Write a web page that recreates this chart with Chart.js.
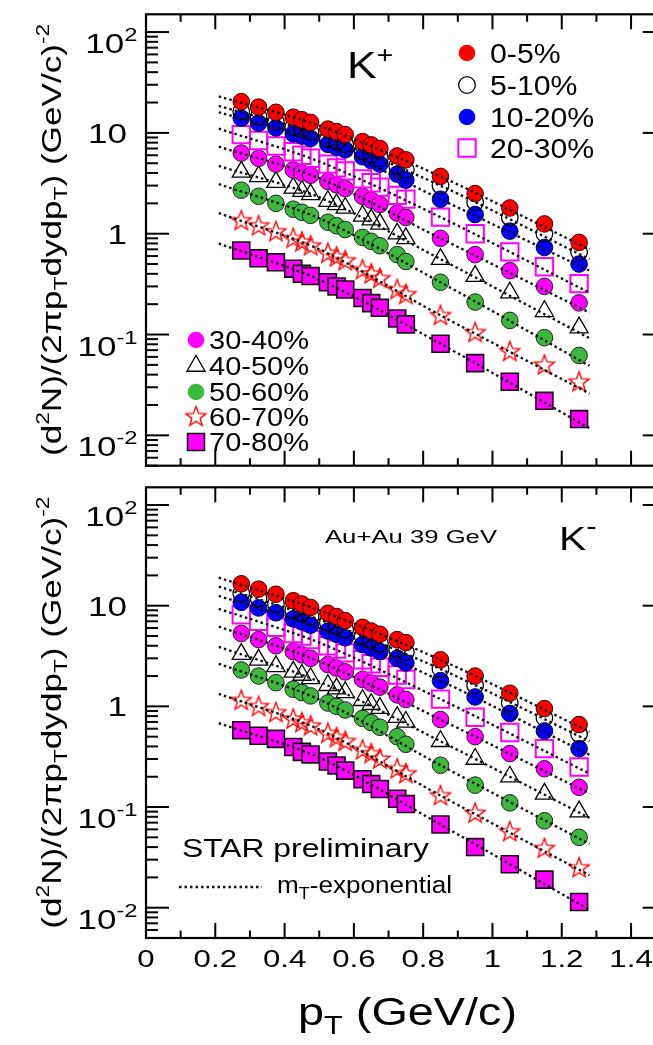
<!DOCTYPE html>
<html><head><meta charset="utf-8">
<script src="https://cdn.jsdelivr.net/npm/chart.js@4.4.1/dist/chart.umd.min.js"></script>
<style>
html,body{margin:0;padding:0;background:#fff;width:653px;height:1045px;overflow:hidden;position:relative;font-family:"Liberation Sans",Arial,sans-serif;}
#w1{position:absolute;left:0;top:0;width:680px;height:480px;}
#w2{position:absolute;left:0;top:473px;width:680px;height:572px;}
</style></head><body>
<div id="w1"><canvas id="c1" width="680" height="480"></canvas></div>
<div id="w2"><canvas id="c2" width="680" height="572"></canvas></div>
<script>
// ---------------- data ----------------
const pT = [0.275,0.325,0.375,0.425,0.45,0.475,0.525,0.55,0.575,0.625,0.65,0.675,0.725,0.75,0.85,0.95,1.05,1.15,1.25];
const centralities = ['0-5%','5-10%','10-20%','20-30%','30-40%','40-50%','50-60%','60-70%','70-80%'];

// K+ spectra
const kp_0_5   = [20.4,18.0,16.0,14.3,13.5,12.7,10.9,10.3,9.6,8.2,7.6,7.0,5.9,5.4,3.7,2.5,1.8,1.25,0.82];
const kp_5_10  = [16.3,14.4,12.8,11.4,10.8,10.2,8.7,8.2,7.7,6.6,6.1,5.6,4.7,4.3,3.0,2.05,1.45,1.0,0.66];
const kp_10_20 = [14.0,12.5,11.2,9.8,9.3,8.8,7.7,7.2,6.8,5.8,5.3,4.9,3.9,3.4,2.2,1.55,1.06,0.73,0.50];
const kp_20_30 = [9.6,8.4,7.4,6.5,6.0,5.6,4.9,4.5,4.2,3.5,3.2,2.9,2.4,2.2,1.46,1.0,0.66,0.47,0.32];
const kp_30_40 = [6.3,5.6,4.9,4.3,4.0,3.8,3.3,3.05,2.8,2.35,2.15,1.95,1.6,1.45,0.90,0.62,0.43,0.30,0.206];
const kp_40_50 = [4.1,3.7,3.25,2.85,2.65,2.45,2.1,1.95,1.8,1.5,1.38,1.25,1.0,0.9,0.56,0.38,0.26,0.17,0.117];
const kp_50_60 = [2.7,2.35,2.0,1.75,1.63,1.52,1.3,1.2,1.1,0.92,0.84,0.76,0.62,0.53,0.33,0.21,0.138,0.093,0.062];
const kp_60_70 = [1.35,1.2,1.05,0.9,0.83,0.76,0.64,0.59,0.54,0.44,0.40,0.36,0.28,0.25,0.155,0.105,0.068,0.050,0.034];
const kp_70_80 = [0.68,0.57,0.52,0.45,0.40,0.38,0.33,0.30,0.28,0.23,0.205,0.184,0.144,0.126,0.081,0.052,0.034,0.022,0.0145];

// K- spectra
const km_0_5   = [16.5,14.6,13.0,11.2,10.4,9.6,8.4,7.8,7.1,6.1,5.6,5.2,4.6,4.3,2.9,2.0,1.35,0.95,0.66];
const km_5_10  = [13.3,11.8,10.4,9.0,8.4,7.8,6.8,6.3,5.8,5.0,4.6,4.2,3.7,3.45,2.35,1.62,1.08,0.77,0.53];
const km_10_20 = [10.8,9.5,8.5,7.4,6.9,6.4,5.6,5.2,4.8,4.1,3.8,3.5,3.0,2.7,1.8,1.24,0.85,0.57,0.38];
const km_20_30 = [8.1,7.0,6.1,5.3,5.0,4.6,4.0,3.7,3.4,2.9,2.65,2.45,2.05,1.85,1.18,0.78,0.55,0.38,0.25];
const km_30_40 = [5.3,4.6,4.0,3.5,3.25,3.0,2.6,2.4,2.2,1.85,1.7,1.55,1.3,1.17,0.74,0.50,0.34,0.24,0.157];
const km_40_50 = [3.3,2.9,2.5,2.2,2.05,1.9,1.62,1.5,1.38,1.15,1.05,0.96,0.78,0.70,0.45,0.30,0.20,0.135,0.09];
const km_50_60 = [2.3,2.0,1.72,1.48,1.37,1.27,1.08,1.0,0.92,0.76,0.69,0.62,0.50,0.42,0.26,0.165,0.11,0.073,0.050];
const km_60_70 = [1.15,1.0,0.87,0.75,0.69,0.64,0.54,0.49,0.45,0.37,0.34,0.30,0.24,0.215,0.13,0.087,0.057,0.039,0.025];
const km_70_80 = [0.58,0.51,0.475,0.395,0.353,0.333,0.283,0.259,0.23,0.189,0.169,0.151,0.121,0.107,0.067,0.040,0.027,0.019,0.0114];

// m_T-exponential fit curves
const fitPt = [0.21, 0.5, 0.85, 1.28];
const kpFit_0_5   = [23, 11.8, 3.7, 0.70];
const kpFit_5_10  = [18.5, 9.5, 3.0, 0.56];
const kpFit_10_20 = [16, 8.3, 2.2, 0.43];
const kpFit_20_30 = [11, 5.2, 1.46, 0.26];
const kpFit_30_40 = [7.3, 3.55, 0.90, 0.165];
const kpFit_40_50 = [4.7, 2.3, 0.56, 0.092];
const kpFit_50_60 = [3.1, 1.42, 0.33, 0.049];
const kpFit_60_70 = [1.6, 0.70, 0.155, 0.026];
const kpFit_70_80 = [0.80, 0.35, 0.081, 0.0118];
const kmFit_0_5   = [19, 9.0, 2.9, 0.56];
const kmFit_5_10  = [15.5, 7.3, 2.35, 0.45];
const kmFit_10_20 = [12.5, 6.0, 1.8, 0.33];
const kmFit_20_30 = [9.3, 4.3, 1.18, 0.215];
const kmFit_30_40 = [6.2, 2.8, 0.74, 0.136];
const kmFit_40_50 = [3.9, 1.76, 0.45, 0.078];
const kmFit_50_60 = [2.65, 1.17, 0.26, 0.043];
const kmFit_60_70 = [1.33, 0.59, 0.13, 0.021];
const kmFit_70_80 = [0.68, 0.31, 0.067, 0.0095];

// axis ticks
const xTickValues = [0,0.2,0.4,0.6,0.8,1.0,1.2,1.4];
const xTickLabels = ['0','0.2','0.4','0.6','0.8','1','1.2','1.4'];
const yTickValues = [0.01,0.1,1,10,100];
const yTickBase   = ['10','10','1','10','10'];
const yTickExp    = ['-2','-1','','','2'];

// ---------------- styles ----------------
const FONT = '"Liberation Sans"';
const GREEN = '#3cb83c';
function starImage(color){
  const c = document.createElement('canvas'); c.width = 26; c.height = 26;
  const g = c.getContext('2d'); g.strokeStyle = color; g.lineWidth = 1.4; g.beginPath();
  for (let i=0;i<10;i++){ const r = i%2===0 ? 10.5 : 4.4; const a = -Math.PI/2 + i*Math.PI/5;
    const px = 13 + r*Math.cos(a), py = 13.5 + r*Math.sin(a); i===0 ? g.moveTo(px,py) : g.lineTo(px,py); }
  g.closePath(); g.stroke(); return c;
}
const STAR = starImage('#ff0000');
const markerStyles = [
  {pointStyle:'circle', radius:8.3, bg:'#ff0000', bc:'#3a0000', bw:1},
  {pointStyle:'circle', radius:8.3, bg:'rgba(0,0,0,0)', bc:'#000', bw:1.3},
  {pointStyle:'circle', radius:8.3, bg:'#0000ff', bc:'#00003a', bw:1},
  {pointStyle:'rect', radius:12.3, bg:'rgba(0,0,0,0)', bc:'#ff00ff', bw:2},
  {pointStyle:'circle', radius:8.3, bg:'#ff00ff', bc:'#222', bw:1},
  {pointStyle:'triangle', radius:10.5, bg:'rgba(0,0,0,0)', bc:'#000', bw:1.3},
  {pointStyle:'circle', radius:8.3, bg:GREEN, bc:'#222', bw:1},
  {pointStyle:STAR, radius:10, bg:'rgba(0,0,0,0)', bc:'#ff0000', bw:1},
  {pointStyle:'rect', radius:12, bg:'#ff00ff', bc:'#111', bw:1.6}
];

function buildDatasets(series, fits){
  const ds = [];
  fits.forEach(f => ds.push({type:'line', data: fitPt.map((x,i)=>({x, y:f[i]})), borderColor:'#111', borderWidth:2.4,
      borderDash:[2.5,3], pointRadius:0, fill:false, tension:0.3, order:0}));
  series.forEach((s,k) => { const m = markerStyles[k];
    ds.push({type:'scatter', label:centralities[k], data: pT.map((x,i)=>({x, y:s[i]})), pointStyle:m.pointStyle,
      pointRadius:m.radius, pointHoverRadius:m.radius, backgroundColor:m.bg, borderColor:m.bc, borderWidth:m.bw, order:1});
  });
  return ds;
}

// ---------------- text helpers ----------------
function rich(ctx, segs, x, y, o){
  o = o || {};
  let nat = 0;
  segs.forEach(s => { ctx.font = s.s + 'px ' + FONT; s._w = ctx.measureText(s.t).width; nat += s._w; });
  const sc = o.w ? o.w/nat : (o.sx || 1);
  ctx.save(); ctx.translate(x,y); if (o.rot) ctx.rotate(o.rot); ctx.scale(sc,1);
  let cx = o.align==='center' ? -nat/2 : (o.align==='right' ? -nat : 0);
  ctx.fillStyle = o.color || '#000'; ctx.textBaseline = 'alphabetic'; ctx.textAlign = 'left';
  segs.forEach(s => { ctx.font = s.s + 'px ' + FONT; ctx.fillText(s.t, cx, s.dy||0); cx += s._w; });
  ctx.restore();
}
function marker(ctx, k, x, y){
  const m = markerStyles[k];
  ctx.save();
  if (k===7){ ctx.drawImage(STAR, x-13, y-13.5); ctx.restore(); return; }
  ctx.beginPath();
  if (m.pointStyle==='circle') ctx.arc(x,y,m.radius,0,Math.PI*2);
  else if (m.pointStyle==='rect'){ const h = m.radius*Math.SQRT1_2; ctx.rect(x-h,y-h,2*h,2*h); }
  else if (m.pointStyle==='triangle'){ const r=m.radius; ctx.moveTo(x, y-r); ctx.lineTo(x+r*0.866, y+r*0.5); ctx.lineTo(x-r*0.866, y+r*0.5); ctx.closePath(); }
  ctx.fillStyle = m.bg; ctx.fill();
  if (m.bg==='rgba(0,0,0,0)' || k===8){ ctx.strokeStyle=m.bc; ctx.lineWidth=m.bw; ctx.stroke(); }
  ctx.restore();
}

const deco = {
  id:'deco',
  afterDatasetsDraw(chart, args, o){
    const ctx = chart.ctx, a = chart.chartArea, xs = chart.scales.x, ys = chart.scales.y, off = o.off;
    ctx.save();
    ctx.strokeStyle = '#000'; ctx.lineWidth = 2; ctx.lineCap='butt';
    const ln = (x1,y1,x2,y2)=>{ ctx.beginPath(); ctx.moveTo(x1,y1); ctx.lineTo(x2,y2); ctx.stroke(); };
    for (let i=0;i<=15;i++){ const px = xs.getPixelForValue(i/10); const L = i%2===0 ? 15 : 7.5;
      ln(px,a.top,px,a.top+L); ln(px,a.bottom,px,a.bottom-L); }
    for (let e=-3;e<=2;e++) for (let m=1;m<=9;m++){ const v = m*Math.pow(10,e);
      if (v < ys.min*0.999 || v > ys.max*1.001) continue; const py = ys.getPixelForValue(v); const L = m===1 ? 23 : 12;
      ln(a.left,py,a.left+L,py); ln(a.right,py,a.right-L,py); }
    ctx.lineWidth = 2.2; ctx.strokeRect(a.left,a.top,a.right-a.left,a.bottom-a.top);
    // y tick labels
    yTickValues.forEach((v,i)=>{ const py = ys.getPixelForValue(v);
      if (yTickExp[i]) rich(ctx,[{t:yTickBase[i],s:28},{t:yTickExp[i],s:19,dy:-12}],137.5,py+21,{align:'right',sx:1.25});
      else rich(ctx,[{t:yTickBase[i],s:28}],127,py+10,{align:'right',sx:1.25});
    });
    // y title
    const yc = (a.top + a.bottom)/2;
    rich(ctx,[{t:'(d',s:28},{t:'2',s:18,dy:-12},{t:'N)/(2πp',s:28},{t:'T',s:18,dy:6},{t:'dydp',s:28},{t:'T',s:18,dy:6},
      {t:') (GeV/c)',s:28},{t:'-2',s:18,dy:-12}], 61, yc, {align:'center', rot:-Math.PI/2, w:432});
    o.extra(ctx, off, xs, ys);
    ctx.restore();
  }
};

function topExtra(ctx, off){
  rich(ctx,[{t:'K',s:37},{t:'+',s:24,dy:-15}],347,78-off,{sx:1.2});
  const rows = [53,85,117,148];
  [0,1,2,3].forEach((k,i)=>{ marker(ctx,k,467,rows[i]-off); rich(ctx,[{t:centralities[k],s:27}],490,rows[i]+10-off,{sx:1.12}); });
  const rows2 = [340,366,392,417,442];
  [4,5,6,7,8].forEach((k,i)=>{ marker(ctx,k,196,rows2[i]-off); rich(ctx,[{t:centralities[k],s:25}],209,rows2[i]+9-off,{w:100}); });
}
function botExtra(ctx, off, xs){
  rich(ctx,[{t:'Au+Au 39 GeV',s:19}],325,543-off,{w:172});
  rich(ctx,[{t:'K',s:34},{t:'-',s:26,dy:-15}],559,550-off,{sx:1.2});
  rich(ctx,[{t:'STAR preliminary',s:26}],182,857-off,{w:247});
  ctx.save(); ctx.strokeStyle='#111'; ctx.lineWidth=2.4; ctx.setLineDash([2.5,3]);
  ctx.beginPath(); ctx.moveTo(179,887-off); ctx.lineTo(262,887-off); ctx.stroke(); ctx.restore();
  rich(ctx,[{t:'m',s:23},{t:'T',s:16,dy:6},{t:'-exponential',s:23}],277,893-off,{w:175});
  xTickValues.forEach((v,i)=>{ rich(ctx,[{t:xTickLabels[i],s:24}],xs.getPixelForValue(v),967-off,{align:'center',sx:1.3}); });
  rich(ctx,[{t:'p',s:38},{t:'T',s:25,dy:9},{t:' (GeV/c)',s:38}],298,1025-off,{w:219});
}

function makeChart(id, series, fits, pad, off, extra){
  return new Chart(document.getElementById(id), {
    data:{ datasets: buildDatasets(series, fits) },
    options:{ responsive:false, animation:false, devicePixelRatio:1,
      layout:{padding:pad},
      scales:{ x:{type:'linear', min:0, max:1.5, display:false},
               y:{type:'logarithmic', min:0.005, max:150, display:false} },
      plugins:{ legend:{display:false}, tooltip:{enabled:false}, deco:{off, extra} } },
    plugins:[deco]
  });
}
makeChart('c1', [kp_0_5,kp_5_10,kp_10_20,kp_20_30,kp_30_40,kp_40_50,kp_50_60,kp_60_70,kp_70_80],
  [kpFit_0_5,kpFit_5_10,kpFit_10_20,kpFit_20_30,kpFit_30_40,kpFit_40_50,kpFit_50_60,kpFit_60_70,kpFit_70_80],
  {left:146, top:13, right:13.5, bottom:7}, 0, topExtra);
makeChart('c2', [km_0_5,km_5_10,km_10_20,km_20_30,km_30_40,km_40_50,km_50_60,km_60_70,km_70_80],
  [kmFit_0_5,kmFit_5_10,kmFit_10_20,kmFit_20_30,kmFit_30_40,kmFit_40_50,kmFit_50_60,kmFit_60_70,kmFit_70_80],
  {left:146, top:2, right:13.5, bottom:107}, 473, botExtra);
</script>
</body></html>
